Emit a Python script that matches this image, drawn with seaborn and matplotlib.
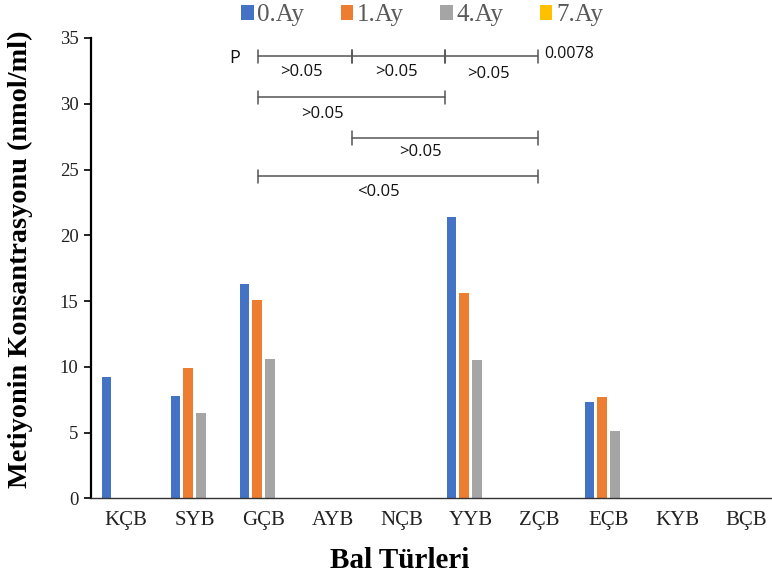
import numpy as np
import pandas as pd
import matplotlib
matplotlib.use("Agg")
import matplotlib.pyplot as plt
import seaborn as sns

# Honey types and methionine concentration (nmol/ml) per storage month
categories = ["KÇB", "SYB", "GÇB", "AYB", "NÇB", "YYB", "ZÇB", "EÇB", "KYB", "BÇB"]
months = ["0.Ay", "1.Ay", "4.Ay", "7.Ay"]
ay0 = [9.2, 7.8, 16.3, 0, 0, 21.4, 0, 7.3, 0, 0]
ay1 = [0, 9.9, 15.1, 0, 0, 15.6, 0, 7.7, 0, 0]
ay4 = [0, 6.5, 10.6, 0, 0, 10.5, 0, 5.1, 0, 0]
ay7 = [0, 0, 0, 0, 0, 0, 0, 0, 0, 0]
colors = ["#4472C4", "#ED7D31", "#A5A5A5", "#FFC000"]

# Pairwise comparison brackets: (x start, x end, y, label, label x, label y)
brackets = [
    (1.92, 3.28, 33.6, ">0.05", 2.55, 32.4),
    (3.28, 4.63, 33.6, ">0.05", 3.92, 32.4),
    (4.63, 5.98, 33.6, ">0.05", 5.26, 32.3),
    (1.92, 4.63, 30.5, ">0.05", 2.85, 29.2),
    (3.28, 5.98, 27.4, ">0.05", 4.28, 26.3),
    (1.92, 5.98, 24.5, "<0.05", 3.67, 23.3),
]

df = pd.DataFrame({
    "Bal": categories * 4,
    "Ay": np.repeat(months, len(categories)),
    "Deger": ay0 + ay1 + ay4 + ay7,
})

sns.set_style("white")
plt.rcParams["font.family"] = ["Liberation Serif", "DejaVu Serif"]

fig = plt.figure(figsize=(7.72, 5.76), dpi=100)
ax = fig.add_axes([91 / 772, 1 - 498.3 / 576, 1 - 91 / 772, (498.3 - 38) / 576])

sns.barplot(data=df, x="Bal", y="Deger", hue="Ay", order=categories,
            hue_order=months, palette=colors, width=0.736, gap=0.24,
            linewidth=0, saturation=1, ax=ax, legend=True)

ax.set_ylim(0, 35)
ax.set_xlim(-0.5, -0.5 + (772 - 91) / 69)
ax.set_yticks(range(0, 36, 5))
ax.tick_params(axis="y", direction="out", length=5, width=1.2, color="black",
               labelsize=13.5, pad=4, left=True)
ax.tick_params(axis="x", length=0, labelsize=15, pad=9)
for lab in ax.get_xticklabels() + ax.get_yticklabels():
    lab.set_color("#222222")

for side in ["top", "right"]:
    ax.spines[side].set_visible(False)
ax.spines["left"].set_color("black")
ax.spines["left"].set_linewidth(1.6)
ax.spines["bottom"].set_color("#333333")
ax.spines["bottom"].set_linewidth(1.0)

ax.set_ylabel("Metiyonin Konsantrasyonu (nmol/ml)", fontsize=20.3,
              fontweight="bold", color="black")
ax.set_xlabel("Bal Türleri", fontsize=21, fontweight="bold", color="black")
ax.xaxis.set_label_coords((400 - 91) / 681, -0.105)
ax.yaxis.set_label_coords((33 - 91) / 681, (498.3 - 259) / 460.3)

handles, labels = ax.get_legend_handles_labels()
leg = ax.legend(handles, labels, loc="upper center",
                bbox_to_anchor=(422 / 772, 1 - 3 / 576),
                bbox_transform=fig.transFigure, ncol=4, frameon=False,
                fontsize=18, handlelength=0.5, handleheight=0.5,
                handletextpad=0.15, columnspacing=1.45, borderaxespad=0.0,
                borderpad=0.05)
for t in leg.get_texts():
    t.set_color("#595959")

ann_font = ["Open Sans", "DejaVu Sans"]
tick_h = 0.5
for x0, x1, y, lab, lx, ly in brackets:
    ax.plot([x0, x1], [y, y], color="#555555", lw=1.1, clip_on=False)
    for xe in (x0, x1):
        ax.plot([xe, xe], [y - tick_h, y + tick_h], color="#555555", lw=1.1,
                clip_on=False)
    ax.text(lx, ly, lab, ha="center", va="center", fontsize=12,
            family=ann_font, color="#111111")
ax.text(1.58, 33.5, "P", ha="center", va="center", fontsize=13,
        family=ann_font, color="#111111")
ax.text(6.07, 33.8, "0.0078", ha="left", va="center", fontsize=11.5,
        family=ann_font, color="#111111")

fig.savefig("out.png", dpi=100)
